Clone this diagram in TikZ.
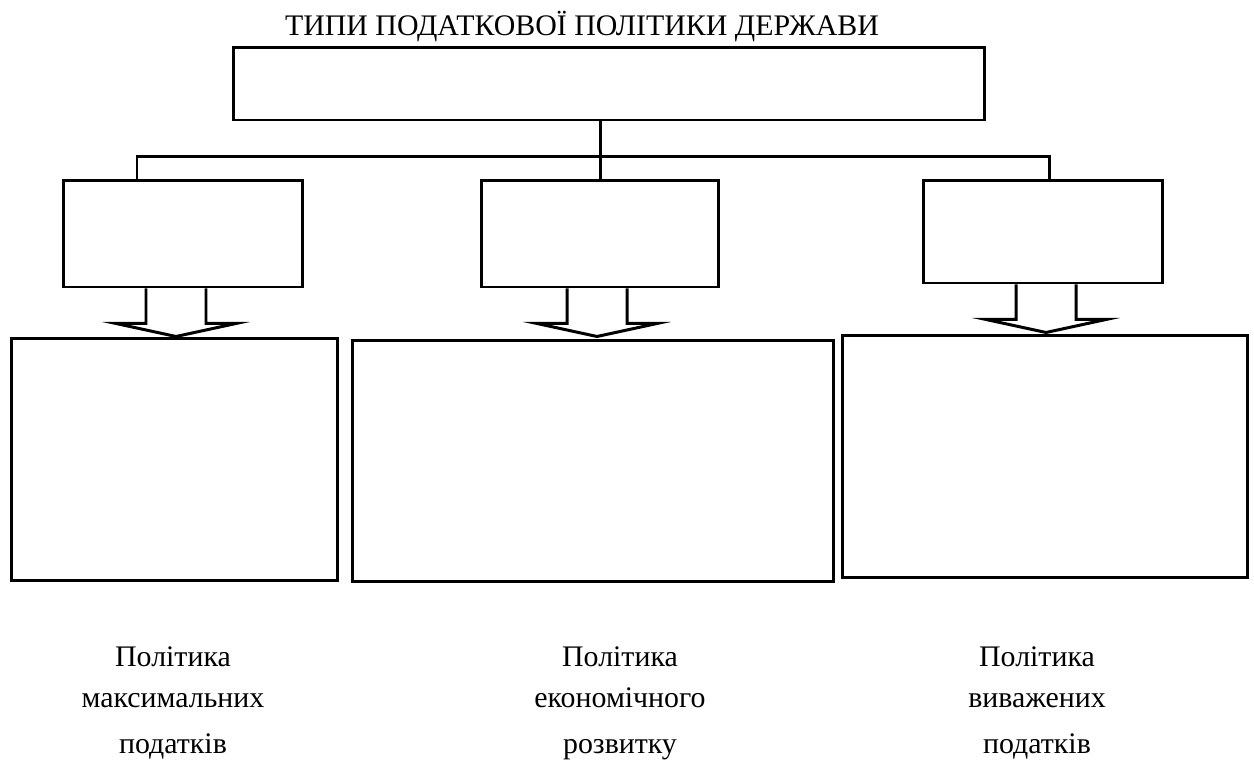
\documentclass[tikz,border=0pt]{standalone}
\usepackage{fontspec}
\setmainfont{Liberation Serif}

\tikzset{box/.style={draw,line width=1.7pt,inner sep=0pt},
  conn/.style={line width=1.7pt},
  lbl/.style={font=\fontsize{17}{23}\selectfont,align=center,inner sep=0pt}}

\newcommand\fatarrow[2]{%
  \draw[conn,shift={(#1)},shift={(#2,0)}] (-30,0) -- (-30,35) -- (-60,35)
    -- (0,48) -- (60,35) -- (30,35) -- (30,0);}

\begin{document}
\begin{tikzpicture}[x=0.02cm,y=-0.02cm]
   \useasboundingbox (0,0) rectangle (1254,782);
   \node[lbl,anchor=base] (title) at (582,35) {ТИПИ ПОДАТКОВОЇ ПОЛІТИКИ ДЕРЖАВИ};
   \node[box,minimum width=15.04cm,minimum height=1.46cm] (top) at (609,83.5) {};
   \node[box,minimum width=4.8cm,minimum height=2.14cm] (lt) at (183,233.5) {};
   \node[box,minimum width=4.76cm,minimum height=2.14cm] (mt) at (600,233.5) {};
   \node[box,minimum width=4.8cm,minimum height=2.06cm] (rt) at (1043,231.5) {};
   \node[box,minimum width=6.54cm,minimum height=4.86cm] (lb) at (174.5,459.5) {};
   \node[box,minimum width=9.64cm,minimum height=4.84cm] (mb) at (593,461) {};
   \node[box,minimum width=8.12cm,minimum height=4.86cm] (rb) at (1045,456.5) {};
   \coordinate (bl) at (137,156);
   \coordinate (br) at (1049,156);
   \draw[conn] (top.south -| mt.north) -- (mt.north);
   \draw[conn] (lt.north -| bl) -- (bl) -- (br) -- (rt.north -| br);
   \fatarrow{lt.south}{-7}
   \fatarrow{mt.south}{-3}
   \fatarrow{rt.south}{3}
   \node[lbl,anchor=base] (ltxt) at (173,753) {Політика\\максимальних\\[3pt]податків};
   \node[lbl,anchor=base] (mtxt) at (620,753) {Політика\\економічного\\[3pt]розвитку};
   \node[lbl,anchor=base] (rtxt) at (1037,753) {Політика\\виважених\\[3pt]податків};
\end{tikzpicture}
\end{document}
